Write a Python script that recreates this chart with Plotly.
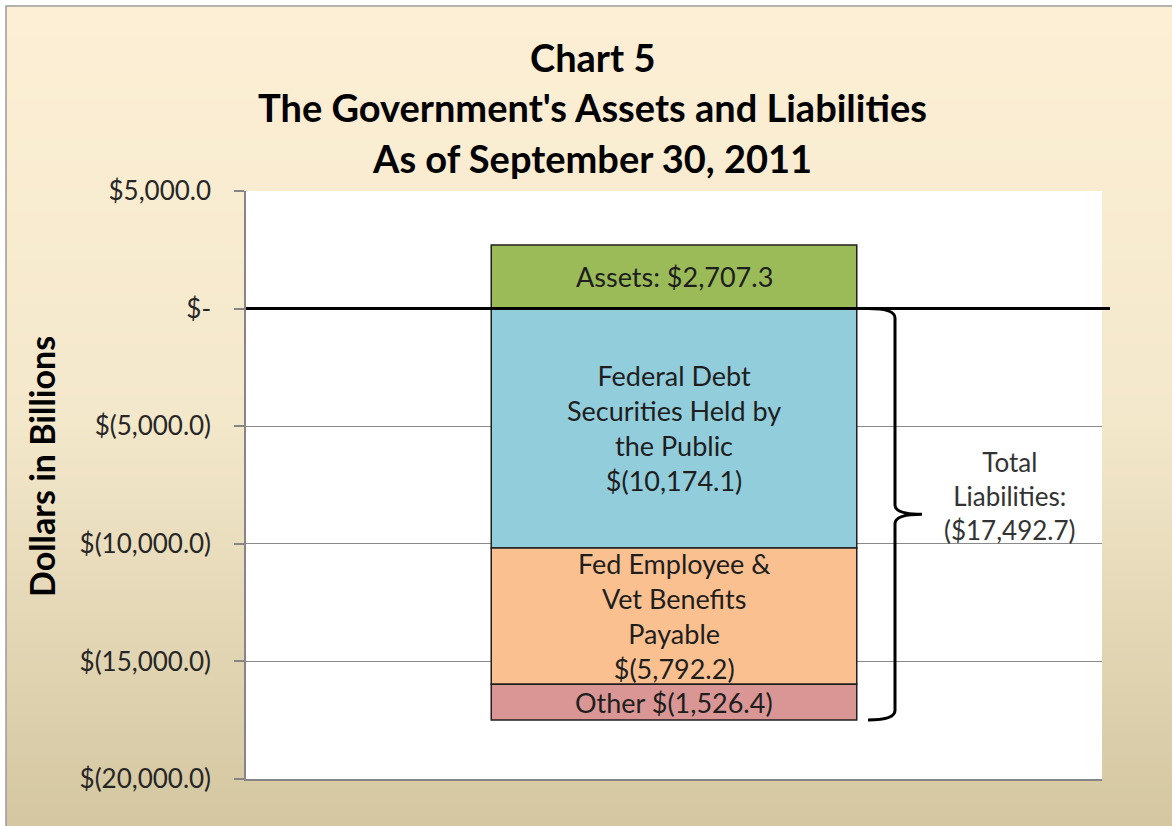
import plotly.graph_objects as go

# ---------------- data ----------------
categories = [""]
series_names = ["Assets", "Federal Debt Securities Held by the Public",
                "Fed Employee & Vet Benefits Payable", "Other"]
series_values = [2707.3, -10174.1, -5792.2, -1526.4]
series_labels = ["Assets: $2,707.3",
                 "Federal Debt<br>Securities Held by<br>the Public<br>$(10,174.1)",
                 "Fed Employee &<br>Vet Benefits<br>Payable<br>$(5,792.2)",
                 "Other $(1,526.4)"]
series_colors = ["#9BBB59", "#92CDDC", "#FAC090", "#D99694"]
total_liabilities = -17492.7
total_label = "Total<br>Liabilities:<br>($17,492.7)"
tick_values = [5000, 0, -5000, -10000, -15000, -20000]
tick_labels = ["$5,000.0", "$-", "$(5,000.0)", "$(10,000.0)", "$(15,000.0)", "$(20,000.0)"]
title_lines = ["Chart 5", "The Government's Assets and Liabilities", "As of September 30, 2011"]
y_title = "Dollars in Billions"

FONT = "Lato"
W, H = 1172, 826
ML, MR, MT, MB = 246, 70, 191, 47
PW, PH = W - ML - MR, H - MT - MB


def px_x(px):
    return (px - ML) / PW


def px_y(py):
    return (H - MB - py) / PH


fig = go.Figure()
for name, val, col in zip(series_names, series_values, series_colors):
    fig.add_trace(go.Bar(x=categories, y=[val], name=name, width=0.427,
                         marker=dict(color=col, line=dict(color="#1f1f1f", width=1.5)),
                         hoverinfo="y"))

# labels at segment midpoints (computed from data)
pos_base, neg_base = 0.0, 0.0
for val, lab in zip(series_values, series_labels):
    if val >= 0:
        mid = pos_base + val / 2
        pos_base += val
    else:
        mid = neg_base + val / 2
        neg_base += val
    fig.add_annotation(x=categories[0], y=mid, xref="x", yref="y", text=lab,
                       showarrow=False, font=dict(family=FONT, size=27, color="#1e1e1e"),
                       align="center", xanchor="center", yanchor="middle")

shapes = []
# gradient background
top = (252, 239, 213)
mid_c = (244, 232, 204)
bot = (212, 199, 161)
N = 80
for i in range(N):
    t = i / (N - 1)
    if t < 0.5:
        a, b, u = top, mid_c, t / 0.5
    else:
        a, b, u = mid_c, bot, (t - 0.5) / 0.5
    c = tuple(int(round(a[k] + (b[k] - a[k]) * u)) for k in range(3))
    py0 = 6 + i * (H - 6) / N
    py1 = 6 + (i + 1) * (H - 6) / N + 1
    shapes.append(dict(type="rect", xref="paper", yref="paper", layer="below",
                       x0=px_x(6), x1=px_x(W + 10), y0=px_y(py1), y1=px_y(py0),
                       fillcolor="rgb(%d,%d,%d)" % c, line=dict(width=0)))
# outer border (left/top)
shapes.append(dict(type="rect", xref="paper", yref="paper", layer="below",
                   x0=px_x(6), x1=px_x(W + 10), y0=px_y(H + 10), y1=px_y(6),
                   fillcolor="rgba(0,0,0,0)", line=dict(color="#9a9a9a", width=1.5)))
# white plot area
shapes.append(dict(type="rect", xref="paper", yref="paper", layer="below",
                   x0=0, x1=1, y0=0, y1=1, fillcolor="white", line=dict(width=0)))
# zero line
shapes.append(dict(type="line", xref="paper", yref="y", layer="above",
                   x0=0, x1=px_x(1110), y0=0, y1=0, line=dict(color="black", width=3)))
# brace
xh, xl, xt = px_x(868), px_x(895), px_x(922)
h = 400
m = total_liabilities / 2
b = total_liabilities
path = (f"M {xh},0 Q {xl},0 {xl},{-h} L {xl},{m + h} Q {xl},{m} {xt},{m} "
        f"Q {xl},{m} {xl},{m - h} L {xl},{b + h} Q {xl},{b} {xh},{b}")
shapes.append(dict(type="path", xref="paper", yref="y", layer="above", path=path,
                   line=dict(color="black", width=3)))

fig.add_annotation(x=px_x(1009), y=total_liabilities / 2, xref="paper", yref="y", yshift=18,
                   text=total_label, showarrow=False, align="center",
                   xanchor="center", yanchor="middle",
                   font=dict(family=FONT, size=26, color="#333333"))

# titles
for line, py in zip(title_lines, [57, 107, 158]):
    fig.add_annotation(x=px_x(592), xref="paper", y=px_y(py), yref="paper",
                       text="<b>" + line + "</b>", showarrow=False,
                       xanchor="center", yanchor="middle",
                       font=dict(family=FONT, size=38, color="black"))

fig.add_annotation(x=px_x(41), xref="paper", y=px_y(467), yref="paper",
                   text="<b>" + y_title + "</b>", textangle=-90, showarrow=False,
                   xanchor="center", yanchor="middle",
                   font=dict(family=FONT, size=34, color="black"))

fig.update_layout(
    width=W, height=H, barmode="relative", showlegend=False,
    margin=dict(l=ML, r=MR, t=MT, b=MB, pad=0),
    paper_bgcolor="white", plot_bgcolor="white",
    shapes=shapes,
    xaxis=dict(showticklabels=False, ticks="", showgrid=False, zeroline=False,
               showline=True, linecolor="#868686", linewidth=1.5, range=[-0.5, 0.5]),
    yaxis=dict(range=[-20000, 5000], tickvals=tick_values, ticktext=tick_labels,
               showgrid=True, gridcolor="#8a8a8a", gridwidth=1, zeroline=False,
               showline=True, linecolor="#868686", linewidth=1.5,
               ticks="outside", ticklen=10, tickcolor="#868686", tickwidth=1.5,
               ticklabelstandoff=18,
               tickfont=dict(family=FONT, size=26, color="#262626")),
)
fig.write_html("out.html", config={"displayModeBar": False},
               post_script="document.body.style.margin='0';document.body.style.overflow='hidden';")
